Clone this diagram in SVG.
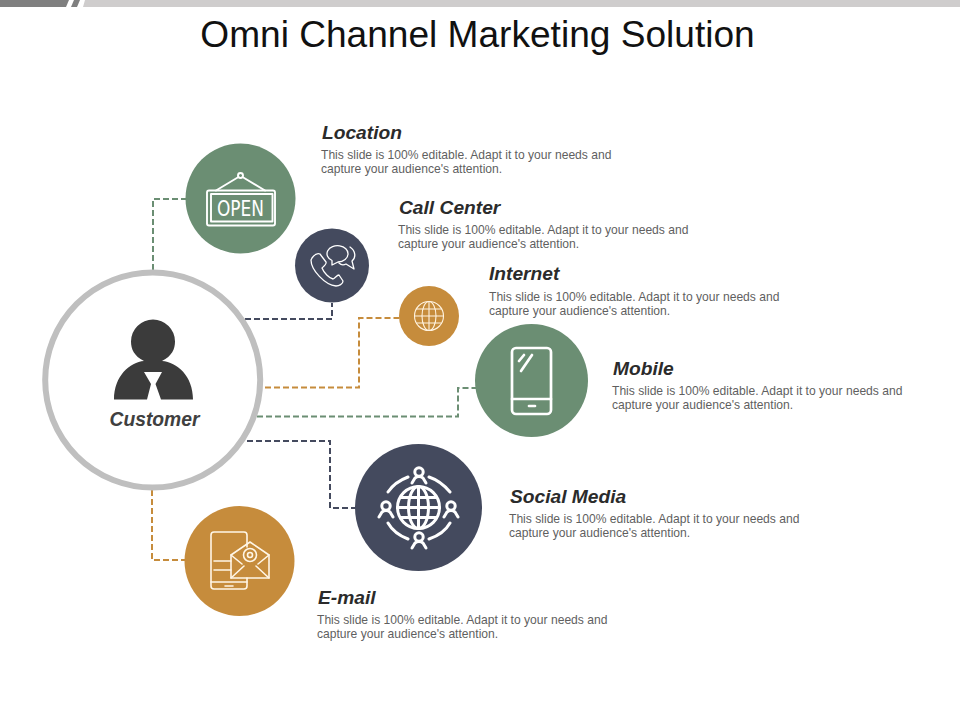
<svg xmlns="http://www.w3.org/2000/svg" width="960" height="720" viewBox="0 0 960 720">
<style>
text{font-family:"Liberation Sans",Arial,sans-serif}
.title{font-size:37.1px;fill:#111}
.head{font-size:19.2px;font-weight:bold;font-style:italic;fill:#2b2b2b}
.body{font-size:12.1px;fill:#5f5f5f}
.conn{fill:none;stroke-width:2;stroke-dasharray:6 3}
.icon{fill:none;stroke:#fff;stroke-width:1.600;stroke-linecap:round;stroke-linejoin:round}
.green{stroke:#6b8e73}.navy{stroke:#444a5e}.gold{stroke:#c68c3c}
</style>
<rect width="960" height="720" fill="#fff"/>
<g id="top-band">
<polygon points="0,0 69,0 66,7 0,7" fill="#7f7f7f"/>
<polygon points="74,0 80,0 77,7 71,7" fill="#7f7f7f"/>
<polygon points="85,0 960,0 960,7 83,7" fill="#cfcdcd"/>
</g>
<text class="title" x="477.500" y="47" text-anchor="middle">Omni Channel Marketing Solution</text>
<g id="connectors">
<path class="conn green" d="M153 270V199H186"/>
<path class="conn navy" d="M245 319H332V303"/>
<path class="conn gold" d="M265 387.500H359V318H400"/>
<path class="conn green" d="M257 416.500H458V388H476"/>
<path class="conn navy" d="M247 441H330V508H356"/>
<path class="conn gold" d="M152 490V560H185"/>
</g>
<g id="customer">
<circle cx="152.700" cy="380" r="107.500" fill="#fff" stroke="#bfbfbf" stroke-width="6"/>
<path fill="#3b3b3b" d="M114 399.500C114 376 130 362 144 361C134 356 131 349 131 341.500A22 22 0 0 1 175 341.500C175 349 172 356 162 361C177 362 193 376 193 399.500H161L155.500 384L162 372H144L151 384L147 399.500Z"/>
<text x="154.500" y="425.500" text-anchor="middle" style="font-size:19.300px;font-weight:bold;font-style:italic;fill:#404040">Customer</text>
</g>
<g id="location">
<circle cx="240.500" cy="198.500" r="55" fill="#6b8e73"/>
<g class="icon" style="stroke-width:1.900">
<circle cx="240.500" cy="175.500" r="2.500"/>
<path d="M238.500 177L216 190.500M242.500 177L265 190.500"/>
<rect x="207" y="190.500" width="68" height="35" rx="2"/>
<rect x="211" y="194" width="61.500" height="27.500"/>
</g>
<text x="240.500" y="215.500" text-anchor="middle" style="font-size:20.500px;fill:#fff;font-family:'DejaVu Sans Condensed','DejaVu Sans',sans-serif" textLength="47" lengthAdjust="spacingAndGlyphs">OPEN</text>
<text class="head" x="322" y="139">Location</text>
<text class="body" x="321" y="159">This slide is 100% editable. Adapt it to your needs and</text>
<text class="body" x="321" y="173">capture your audience's attention.</text>
</g>
<g id="call-center">
<circle cx="332" cy="265.500" r="37" fill="#444a5e"/>
<g class="icon" style="stroke-width:1.300">
<path d="M312 258C315 254 318 253 320 254L326 262C327 264 323 267 322 268C324 273 329 278 333 279C335 278 337 275 339 275L343 281C343 284 339 286 336 286C325 285 311 270 311 260Z"/>
<path d="M348 254A10.500 8 0 1 0 332 260.500L332 265L338 262A10.500 8 0 0 0 348 254Z"/>
<path d="M350 247C356 251 356 258 352 261L354 269L346 264C344 265 341 265 339 263"/>
</g>
<text class="head" x="399" y="214">Call Center</text>
<text class="body" x="398" y="234">This slide is 100% editable. Adapt it to your needs and</text>
<text class="body" x="398" y="248">capture your audience's attention.</text>
</g>
<g id="internet">
<circle cx="429" cy="316" r="30" fill="#c68c3c"/>
<g class="icon" style="stroke-width:1.100;stroke:#fff3e0">
<circle cx="429" cy="316" r="14.500"/>
<ellipse cx="429" cy="316" rx="7" ry="14.500"/>
<path d="M429 301.500V330.500M414.500 316H443.500M417 309H441M417 323H441"/>
</g>
<text class="head" x="489" y="280">Internet</text>
<text class="body" x="489" y="301">This slide is 100% editable. Adapt it to your needs and</text>
<text class="body" x="489" y="315">capture your audience's attention.</text>
</g>
<g id="mobile">
<circle cx="531.500" cy="380.500" r="56.500" fill="#6b8e73"/>
<g class="icon" style="stroke-width:2.700">
<rect x="512" y="348" width="39" height="66" rx="4"/>
<path d="M512 399H551M529 406H535M519 361L524 355M521 371L532 355"/>
</g>
<text class="head" x="613" y="375">Mobile</text>
<text class="body" x="612" y="395">This slide is 100% editable. Adapt it to your needs and</text>
<text class="body" x="612" y="409">capture your audience's attention.</text>
</g>
<g id="social-media">
<circle cx="418.500" cy="507.500" r="63.500" fill="#444a5e"/>
<g class="icon" style="stroke-width:3">
<circle cx="418.500" cy="507.500" r="21"/>
<ellipse cx="418.500" cy="507.500" rx="10" ry="21"/>
<path d="M418.500 486.500V528.500M397.500 507.500H439.500M400.500 497.500H436.500M400.500 517.500H436.500"/>
<path d="M388 492C392 486 400 480 408 477M429 477C438 480 445 486 450 492M450 523C446 530 438 536 429 539M408 539C400 536 392 530 388 523"/>
<circle cx="419" cy="472" r="4.200"/>
<path d="M412 483L415 478Q419 475 423 478L426 483"/>
<circle cx="386" cy="506" r="4.200"/>
<path d="M379 517L382 512Q386 509 390 512L393 517"/>
<circle cx="451" cy="506" r="4.200"/>
<path d="M444 517L447 512Q451 509 455 512L458 517"/>
<circle cx="419" cy="537" r="4.200"/>
<path d="M412 548L415 543Q419 540 423 543L426 548"/>
</g>
<text class="head" x="510" y="503">Social Media</text>
<text class="body" x="509" y="523">This slide is 100% editable. Adapt it to your needs and</text>
<text class="body" x="509" y="537">capture your audience's attention.</text>
</g>
<g id="email">
<circle cx="239.500" cy="561" r="55" fill="#c68c3c"/>
<g class="icon" style="stroke:#fff6e6">
<path d="M247 547V535A3 3 0 0 0 244 532H214A3 3 0 0 0 211 535V586A3 3 0 0 0 214 589H244A3 3 0 0 0 247 586V578"/>
<path d="M211 582H247M225 586H233M214 561H231M214 570H231"/>
<path d="M231 555L250 542L269 555V578H231Z"/>
<path d="M231 555L242 564M269 555L258 564M231 578L244 566M269 578L256 566"/>
<circle cx="250" cy="555" r="6.500"/>
<circle cx="250" cy="555" r="2.500"/>
</g>
<text class="head" x="318" y="604">E-mail</text>
<text class="body" x="317" y="624">This slide is 100% editable. Adapt it to your needs and</text>
<text class="body" x="317" y="638">capture your audience's attention.</text>
</g>
</svg>
